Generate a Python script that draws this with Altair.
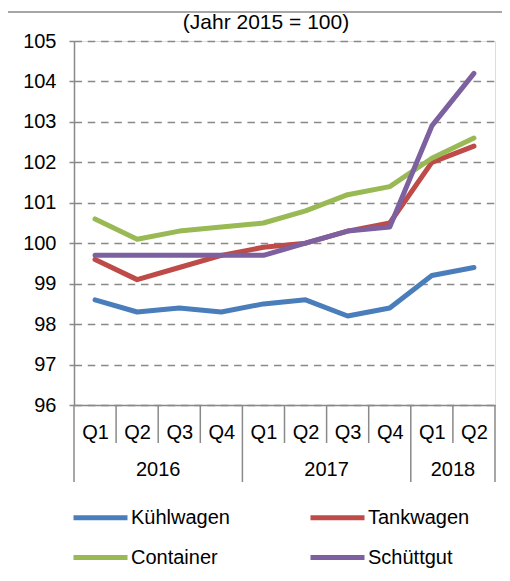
import json
import altair as alt
import pandas as pd

# ---------------- data ----------------
years = ["2016", "2016", "2016", "2016", "2017", "2017", "2017", "2017", "2018", "2018"]
quarters = ["Q1", "Q2", "Q3", "Q4", "Q1", "Q2", "Q3", "Q4", "Q1", "Q2"]
series_names = ["Kühlwagen", "Tankwagen", "Container", "Schüttgut"]
kuehlwagen = [98.6, 98.3, 98.4, 98.3, 98.5, 98.6, 98.2, 98.4, 99.2, 99.4]
tankwagen = [99.6, 99.1, 99.4, 99.7, 99.9, 100.0, 100.3, 100.5, 102.0, 102.4]
container = [100.6, 100.1, 100.3, 100.4, 100.5, 100.8, 101.2, 101.4, 102.1, 102.6]
schuettgut = [99.7, 99.7, 99.7, 99.7, 99.7, 100.0, 100.3, 100.4, 102.9, 104.2]
y_ticks = [96, 97, 98, 99, 100, 101, 102, 103, 104, 105]
title_text = "(Jahr 2015 = 100)"
colors = ["#4A7EBB", "#BE4B48", "#98B954", "#7D60A0"]

series_values = [kuehlwagen, tankwagen, container, schuettgut]

# ---------------- tables ----------------
n = len(quarters)
rows = []
for name, vals in zip(series_names, series_values):
    for i, v in enumerate(vals):
        rows.append({"series": name, "pos": i + 0.5, "value": v,
                     "year": years[i], "quarter": quarters[i]})
df = pd.DataFrame(rows)

cat_df = pd.DataFrame({"pos": [i + 0.5 for i in range(n)], "year": years})

bounds = []
for i in range(n + 1):
    is_year = i == 0 or i == n or years[i] != years[i - 1]
    bounds.append({"b": i, "kind": "year" if is_year else "quarter"})
bounds_df = pd.DataFrame(bounds)

W, H = 421, 364
FONT = "Liberation Sans"
GREY = "#898989"

xscale = alt.Scale(domain=[0, n], nice=False, zero=False)
yscale = alt.Scale(domain=[y_ticks[0], y_ticks[-1]], nice=False, zero=False)

label_expr = json.dumps(quarters) + "[floor(datum.value)]"

lines = alt.Chart(df).mark_line(strokeWidth=5, strokeCap="round", strokeJoin="round").encode(
    x=alt.X("pos:Q", scale=xscale, title=None,
            axis=alt.Axis(values=[i + 0.5 for i in range(n)], labelExpr=label_expr,
                          ticks=False, grid=False, domainColor=GREY, domainWidth=1.5,
                          labelFontSize=20, labelFont=FONT, labelColor="#000000",
                          labelBaseline="middle", labelPadding=27, labelFlush=False)),
    y=alt.Y("value:Q", scale=yscale, title=None,
            axis=alt.Axis(values=y_ticks, grid=True, gridDash=[7.5, 5.8], gridColor=GREY,
                          gridWidth=1.5, tickSize=5, tickColor=GREY, tickWidth=1.5,
                          domainColor=GREY, domainWidth=1.5,
                          labelFontSize=20, labelFont=FONT, labelColor="#000000",
                          labelPadding=13)),
    color=alt.Color("series:N", sort=series_names,
                    scale=alt.Scale(domain=series_names, range=colors),
                    legend=alt.Legend(title=None, orient="none", legendX=-3, legendY=447,
                                      direction="horizontal", columns=2,
                                      symbolType="stroke", symbolSize=2916,
                                      symbolStrokeWidth=5, labelFontSize=20,
                                      labelFont=FONT, labelColor="#000000",
                                      labelOffset=1, columnPadding=70, rowPadding=-16,
                                      labelLimit=300)),
    order=alt.Order("pos:Q"),
)

q_seps = alt.Chart(bounds_df).transform_filter(alt.datum.kind == "quarter").mark_rule(
    color=GREY, strokeWidth=1.5).encode(
    x=alt.X("b:Q", scale=xscale),
    y=alt.value(H), y2=alt.value(H + 38),
)

y_seps = alt.Chart(bounds_df).transform_filter(alt.datum.kind == "year").mark_rule(
    color=GREY, strokeWidth=1.5).encode(
    x=alt.X("b:Q", scale=xscale),
    y=alt.value(H), y2=alt.value(H + 77),
)

year_labels = alt.Chart(cat_df).transform_aggregate(
    mid="mean(pos)", groupby=["year"]).mark_text(
    font=FONT, fontSize=20, color="#000000", baseline="middle", align="center").encode(
    x=alt.X("mid:Q", scale=xscale),
    y=alt.value(H + 65),
    text="year:N",
)

title = alt.Chart(pd.DataFrame({"t": [title_text]})).mark_text(
    font=FONT, fontSize=21, color="#000000", baseline="alphabetic", align="center").encode(
    x=alt.value(192), y=alt.value(-12), text="t:N")

border = alt.Chart(pd.DataFrame({"a": [0]})).mark_rule(color=GREY, strokeWidth=1.5).encode(
    x=alt.value(-71), x2=alt.value(432), y=alt.value(-29))
border_left = alt.Chart(pd.DataFrame({"a": [0]})).mark_rule(color=GREY, strokeWidth=1.5).encode(
    x=alt.value(-70.5), y=alt.value(-29), y2=alt.value(532))

chart = alt.layer(border, border_left, title, q_seps, y_seps, year_labels, lines).properties(
    width=W, height=H,
    autosize=alt.AutoSizeParams(type="none"),
    padding={"left": 66, "top": 33, "right": 7, "bottom": 168},
).configure_view(stroke=None).configure(background="#ffffff")

chart.save("out.html", embed_options={"renderer": "svg", "actions": False})
